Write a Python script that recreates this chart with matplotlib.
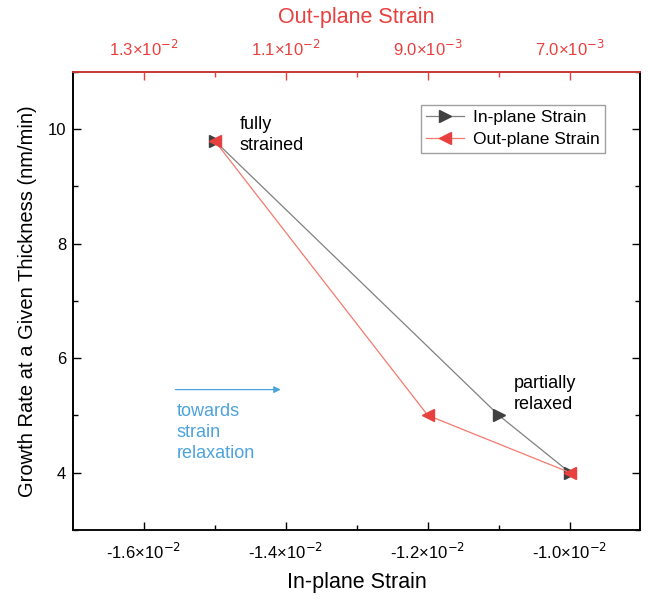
import matplotlib.pyplot as plt
from matplotlib.ticker import FuncFormatter, MultipleLocator

plt.rcParams['font.family'] = ['Liberation Sans', 'DejaVu Sans']

# data
in_strain = [-0.015, -0.011, -0.010]
in_rate = [9.8, 5.0, 4.0]
out_strain = [0.012, 0.009, 0.007]
out_rate = [9.8, 5.0, 4.0]

red = '#e8403f'
blue = '#4da3dc'


def sci_fmt(v, pos):
    if v == 0:
        return '0'
    exp = -2 if abs(v) >= 0.00995 else -3
    mant = v / 10 ** exp
    return '%.1f×10$^{%d}$' % (mant, exp)


fig = plt.figure(figsize=(6.48, 6.0), dpi=100)
ax = fig.add_axes([0.113, 0.117, 0.875, 0.763])

ax.plot(in_strain, in_rate, color='#808080', lw=0.9, marker='>', ms=8.5,
        mfc='#404040', mec='#404040', label='In-plane Strain', zorder=3)
ax.set_xlim(-0.01699, -0.00901)
ax.set_ylim(3, 11)
ax.xaxis.set_major_locator(MultipleLocator(0.002))
ax.xaxis.set_minor_locator(MultipleLocator(0.001))
ax.yaxis.set_major_locator(MultipleLocator(2))
ax.yaxis.set_minor_locator(MultipleLocator(1))
ax.xaxis.set_major_formatter(FuncFormatter(sci_fmt))
ax.tick_params(which='both', direction='in', labelsize=12)
ax.tick_params(axis='y', which='both', right=True, pad=5)
ax.tick_params(axis='x', which='both', pad=9)
ax.tick_params(which='major', length=6, width=1)
ax.tick_params(which='minor', length=3.5, width=1)
ax.set_xlabel('In-plane Strain', fontsize=15.5, labelpad=7)
ax.set_ylabel('Growth Rate at a Given Thickness (nm/min)', fontsize=14.5, labelpad=8)
for s in ax.spines.values():
    s.set_linewidth(1.2)
ax.spines['bottom'].set_color('#555555')

ax2 = ax.twiny()
ax2.plot(out_strain, out_rate, color='#f47a6e', lw=0.9, marker='<', ms=8.5,
         mfc=red, mec=red, label='Out-plane Strain', zorder=4)
ax2.set_xlim(0.01399, 0.00601)
ax2.xaxis.set_major_locator(MultipleLocator(0.002, offset=0.001))
ax2.xaxis.set_minor_locator(MultipleLocator(0.001))
ax2.xaxis.set_major_formatter(FuncFormatter(sci_fmt))
ax2.tick_params(axis='x', which='both', direction='in', colors=red, labelsize=12,
                pad=9)
ax2.tick_params(axis='x', which='major', length=6, width=1)
ax2.tick_params(axis='x', which='minor', length=3.5, width=1)
for s in ax2.spines.values():
    s.set_linewidth(1.2)
ax2.spines['top'].set_color(red)
ax2.set_xlabel('Out-plane Strain', fontsize=15.5, color=red, labelpad=12)

h1, l1 = ax.get_legend_handles_labels()
h2, l2 = ax2.get_legend_handles_labels()
ax2.legend(h1 + h2, l1 + l2, loc='upper right', bbox_to_anchor=(0.938, 0.928),
           fontsize=12.5, frameon=True, fancybox=False, edgecolor='#888888',
           handlelength=2.2, handletextpad=0.5, borderpad=0.3, labelspacing=0.4,
           borderaxespad=0)

ax.text(-0.01465, 9.9, 'fully\nstrained', fontsize=13, va='center', ha='left',
        linespacing=1.3)
ax.text(-0.01079, 5.38, 'partially\nrelaxed', fontsize=13, va='center', ha='left',
        linespacing=1.3)
ax.annotate('', xy=(-0.01403, 5.45), xytext=(-0.01559, 5.45),
            arrowprops=dict(arrowstyle='-|>', color=blue, lw=0.9,
                            mutation_scale=10))
ax.text(-0.01553, 4.7, 'towards\nstrain\nrelaxation', fontsize=13, color=blue,
        va='center', ha='left', linespacing=1.3)

fig.savefig('out.png', dpi=100)
